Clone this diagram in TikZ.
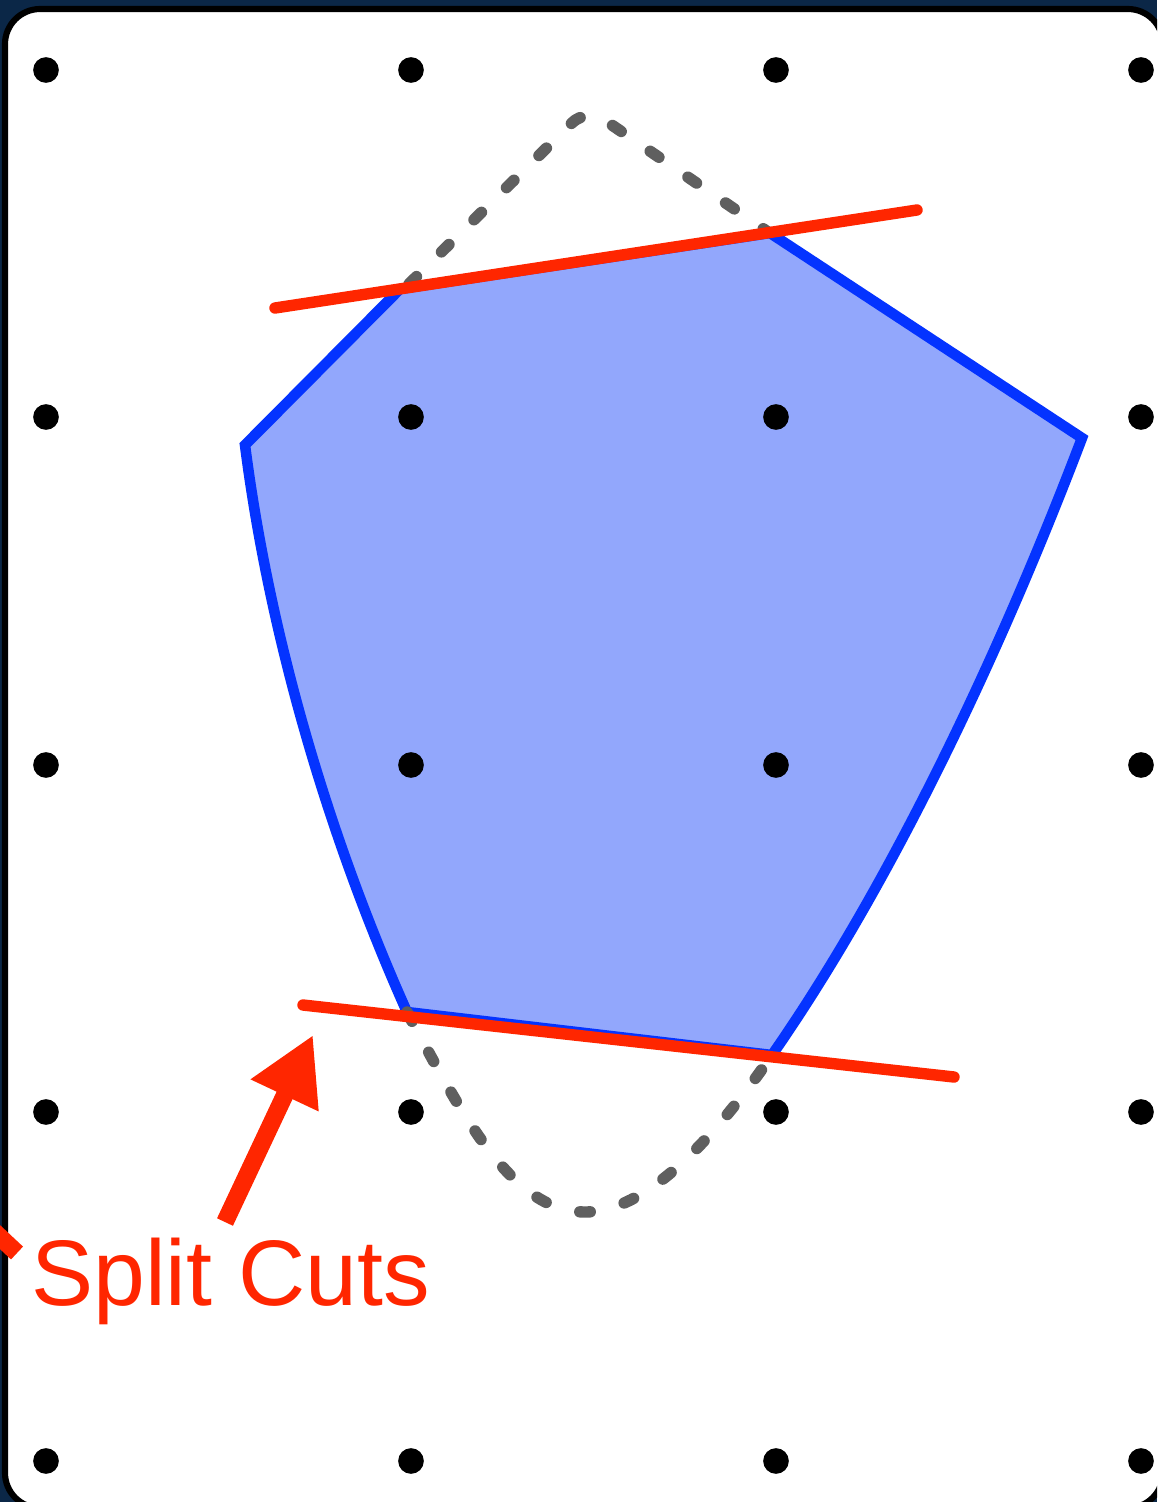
\documentclass[tikz,border=0pt]{standalone}
\usepackage{fontspec}
\setmainfont{Liberation Sans}
\usetikzlibrary{arrows.meta}
\definecolor{navy}{HTML}{0B2747}
\definecolor{cutred}{HTML}{FF2600}
\definecolor{hullblue}{HTML}{0433FF}
\definecolor{hullfill}{HTML}{92A7FC}
\definecolor{dashgray}{HTML}{5F5F5F}

\begin{document}
\begin{tikzpicture}[
    x=0.02cm, y=-0.02cm,
    dot/.style={fill=black},
    hull/.style={draw=hullblue, fill=hullfill, line width=6pt, line join=miter},
    dashcurve/.style={draw=dashgray, line width=6.5pt, line cap=round, dash pattern=on 6pt off 20pt},
    cutline/.style={draw=cutred, line width=6.5pt, line cap=round},
    arr/.style={draw=cutred, line width=10pt, -{Triangle[length=38pt,width=40pt]}},
    lbl/.style={text=cutred, font=\fontsize{53}{62}\selectfont, inner sep=0pt, anchor=base west},
]
\useasboundingbox (0,0) rectangle (1157,1502);
\clip (0,0) rectangle (1157,1502);
\fill[navy] (0,0) rectangle (1157,1502);
\draw[fill=white, line width=3.5pt, rounded corners=20pt] (5,9) rectangle (1163,1508);

\coordinate (a) at (245,445);
\coordinate (b) at (400,289);
\coordinate (c) at (770,233);
\coordinate (d) at (1082,438);
\coordinate (e) at (772,1055);
\coordinate (f) at (407,1012);

\path[hull] (a) -- (b) -- (c) -- (d)
    .. controls (990,680) and (880,900) .. (e) -- (f)
    .. controls (330,840) and (270,640) .. (a) -- cycle;

\foreach \x in {46,411,776,1141}
  \foreach \y in {70,417,765,1112,1461}
    \fill[dot] (\x,\y) circle[radius=7.3pt];

\draw[dashcurve, rounded corners=12pt] (409,284) -- (587,108) -- (768,232);
\draw[dashcurve] (f) .. controls (460,1110) and (510,1212) .. (585,1212)
    .. controls (650,1212) and (720,1130) .. (e);

\coordinate (t1) at (275,308);
\coordinate (t2) at (917,210);
\coordinate (u1) at (303,1005);
\coordinate (u2) at (954,1077);
\draw[cutline] (t1) -- (t2);
\draw[cutline] (u1) -- (u2);

\node[lbl] (split) at (31,1305) {Split Cuts};
\coordinate (tail) at (225,1222);
\coordinate (tip) at (313,1035);
\draw[arr] (tail) -- (tip);
\coordinate (other) at (-30,1209);
\draw[draw=cutred, line width=10pt] (other) -- (17,1253);
\end{tikzpicture}
\end{document}
